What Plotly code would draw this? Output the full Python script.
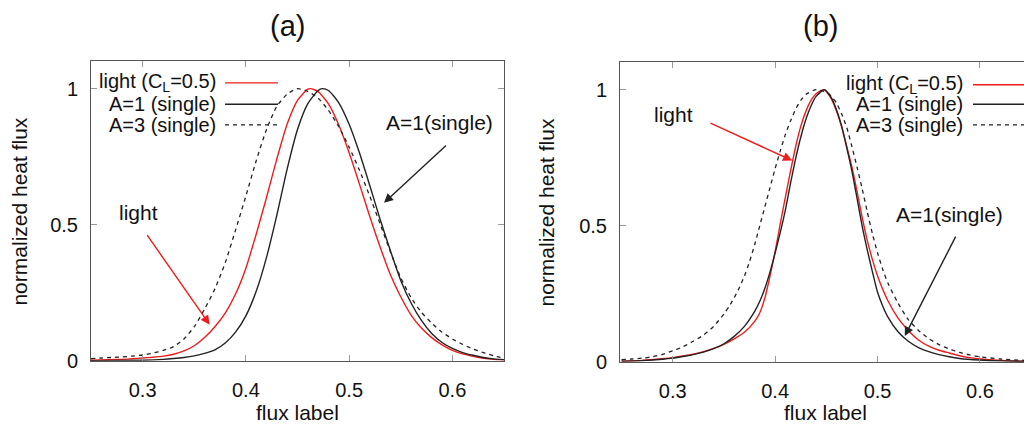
import plotly.graph_objects as go

# ---------------- data ----------------
# panel (a)
red_a_x = [0.25, 0.26, 0.27, 0.28, 0.29, 0.30, 0.31, 0.32, 0.33, 0.34, 0.35, 0.36, 0.37, 0.38, 0.39, 0.40,
           0.41, 0.42, 0.43, 0.44, 0.45, 0.46, 0.4626, 0.47, 0.48, 0.49, 0.50, 0.51, 0.52, 0.53, 0.54, 0.55,
           0.56, 0.57, 0.58, 0.59, 0.60, 0.61, 0.62, 0.63, 0.64, 0.65]
red_a_y = [0.002, 0.003, 0.004, 0.005, 0.007, 0.010, 0.013, 0.017, 0.024, 0.036, 0.055, 0.085, 0.125, 0.175, 0.245, 0.340,
           0.465, 0.600, 0.742, 0.870, 0.957, 0.998, 1.000, 0.989, 0.944, 0.866, 0.764, 0.649, 0.530, 0.418, 0.316, 0.235,
           0.168, 0.120, 0.085, 0.058, 0.038, 0.025, 0.016, 0.009, 0.005, 0.003]

black_a_x = [0.25, 0.30, 0.32, 0.33, 0.34, 0.35, 0.36, 0.37, 0.38, 0.39, 0.40, 0.41, 0.42, 0.43, 0.44, 0.45,
             0.46, 0.47, 0.474, 0.48, 0.49, 0.50, 0.51, 0.52, 0.53, 0.54, 0.55, 0.56, 0.57, 0.58, 0.59, 0.60,
             0.61, 0.62, 0.63, 0.64, 0.65]
black_a_y = [0.000, 0.002, 0.005, 0.008, 0.012, 0.018, 0.027, 0.040, 0.065, 0.105, 0.165, 0.255, 0.380, 0.535, 0.705, 0.850,
             0.945, 0.993, 1.000, 0.993, 0.948, 0.869, 0.764, 0.644, 0.520, 0.404, 0.295, 0.212, 0.148, 0.100, 0.067, 0.045,
             0.030, 0.020, 0.012, 0.007, 0.004]

dash_a_x = [0.25, 0.26, 0.27, 0.28, 0.29, 0.30, 0.31, 0.32, 0.33, 0.34, 0.35, 0.36, 0.37, 0.38, 0.39, 0.40,
            0.41, 0.42, 0.43, 0.44, 0.45, 0.46, 0.47, 0.48, 0.49, 0.50, 0.51, 0.52, 0.53, 0.54, 0.55, 0.56,
            0.57, 0.58, 0.59, 0.60, 0.61, 0.62, 0.63, 0.64, 0.65]
dash_a_y = [0.008, 0.010, 0.012, 0.014, 0.017, 0.021, 0.028, 0.038, 0.052, 0.080, 0.125, 0.190, 0.264, 0.360, 0.480, 0.605,
            0.735, 0.850, 0.935, 0.980, 1.000, 0.990, 0.965, 0.920, 0.860, 0.785, 0.700, 0.605, 0.503, 0.400, 0.305, 0.232,
            0.178, 0.138, 0.105, 0.080, 0.060, 0.043, 0.030, 0.018, 0.010]

# panel (b)
red_b_x = [0.25, 0.27, 0.29, 0.30, 0.31, 0.32, 0.33, 0.34, 0.35, 0.36, 0.37, 0.38, 0.385, 0.39, 0.395, 0.40,
           0.405, 0.41, 0.415, 0.42, 0.425, 0.43, 0.435, 0.44, 0.4475, 0.455, 0.46, 0.465, 0.47, 0.475, 0.48, 0.485,
           0.49, 0.495, 0.50, 0.51, 0.52, 0.53, 0.54, 0.55, 0.56, 0.57, 0.58, 0.59, 0.60, 0.62, 0.643]
red_b_y = [0.002, 0.005, 0.011, 0.015, 0.021, 0.028, 0.037, 0.049, 0.064, 0.084, 0.108, 0.148, 0.180, 0.235, 0.315, 0.405,
           0.507, 0.605, 0.700, 0.790, 0.865, 0.920, 0.960, 0.985, 1.000, 0.965, 0.920, 0.862, 0.790, 0.715, 0.625, 0.530,
           0.445, 0.375, 0.315, 0.225, 0.160, 0.115, 0.080, 0.057, 0.042, 0.032, 0.022, 0.015, 0.010, 0.005, 0.002]

black_b_x = [0.25, 0.27, 0.29, 0.30, 0.31, 0.32, 0.33, 0.34, 0.35, 0.36, 0.37, 0.38, 0.385, 0.39, 0.395, 0.40,
             0.405, 0.41, 0.415, 0.42, 0.425, 0.43, 0.435, 0.44, 0.448, 0.455, 0.46, 0.465, 0.47, 0.475, 0.48, 0.485,
             0.49, 0.495, 0.50, 0.505, 0.51, 0.52, 0.53, 0.54, 0.55, 0.56, 0.57, 0.58, 0.60, 0.62, 0.643]
black_b_y = [0.002, 0.004, 0.009, 0.013, 0.019, 0.026, 0.035, 0.048, 0.066, 0.093, 0.130, 0.185, 0.222, 0.270, 0.330, 0.400,
             0.475, 0.558, 0.655, 0.746, 0.825, 0.890, 0.940, 0.975, 1.000, 0.970, 0.925, 0.865, 0.785, 0.700, 0.600, 0.497,
             0.410, 0.330, 0.255, 0.205, 0.165, 0.110, 0.075, 0.052, 0.037, 0.026, 0.018, 0.012, 0.006, 0.003, 0.001]

dash_b_x = [0.25, 0.26, 0.27, 0.28, 0.29, 0.30, 0.31, 0.32, 0.33, 0.34, 0.35, 0.355, 0.36, 0.365, 0.37, 0.375,
            0.38, 0.385, 0.39, 0.395, 0.40, 0.405, 0.41, 0.415, 0.42, 0.425, 0.43, 0.44, 0.45, 0.455, 0.46, 0.465,
            0.47, 0.475, 0.48, 0.485, 0.49, 0.495, 0.50, 0.505, 0.51, 0.52, 0.53, 0.54, 0.55, 0.56, 0.57, 0.58,
            0.59, 0.60, 0.62, 0.643]
dash_b_y = [0.008, 0.010, 0.013, 0.018, 0.027, 0.040, 0.055, 0.075, 0.098, 0.130, 0.175, 0.203, 0.235, 0.272, 0.315, 0.368,
            0.430, 0.500, 0.570, 0.640, 0.710, 0.775, 0.835, 0.885, 0.928, 0.960, 0.982, 1.000, 0.990, 0.975, 0.950, 0.910,
            0.860, 0.790, 0.715, 0.635, 0.550, 0.470, 0.400, 0.340, 0.290, 0.215, 0.155, 0.115, 0.085, 0.063, 0.047, 0.034,
            0.025, 0.018, 0.010, 0.005]

series_names = ["light (C<sub>L</sub>=0.5)", "A=1 (single)", "A=3 (single)"]
x_ticks = [0.3, 0.4, 0.5, 0.6]
y_ticks = [0, 0.5, 1]
y_tick_labels = ["0", "0.5", "1"]

# ---------------- style ----------------
FONT = "Liberation Sans, Arial, Helvetica, sans-serif"
RED = "#ee1c1c"
BLK = "#222222"
styles = [dict(color=RED, width=1.4), dict(color=BLK, width=1.4), dict(color=BLK, width=1.3, dash="4px,4px")]

fig = go.Figure()
panels = [
    ("x", "y", [(red_a_x, red_a_y), (black_a_x, black_a_y), (dash_a_x, dash_a_y)]),
    ("x2", "y2", [(red_b_x, red_b_y), (black_b_x, black_b_y), (dash_b_x, dash_b_y)]),
]
for xa, ya, data in panels:
    for (xs, ys), st, nm in zip(data, styles, series_names):
        fig.add_trace(go.Scatter(x=xs, y=ys, mode="lines", line=dict(shape="spline", smoothing=0.6, **st),
                                 name=nm, xaxis=xa, yaxis=ya, showlegend=False))

axis_common = dict(showline=True, linecolor="#555555", linewidth=1, ticks="inside", ticklen=6,
                   tickcolor="#999999", tickwidth=1, showgrid=False, zeroline=False,
                   tickfont=dict(family=FONT, size=20, color="#111111"))

fig.update_layout(
    width=1024, height=439, margin=dict(l=0, r=0, t=0, b=0),
    paper_bgcolor="white", plot_bgcolor="white", showlegend=False,
    xaxis=dict(domain=[91/1024, 504/1024], range=[0.25, 0.65], tickvals=x_ticks, mirror="ticks", anchor="y",
               ticklabelstandoff=11, **axis_common),
    yaxis=dict(domain=[1-370/439, 1-63/439], range=[0, 1.1], tickvals=y_ticks, ticktext=y_tick_labels, mirror="ticks",
               anchor="x", ticklabelstandoff=8, **axis_common),
    xaxis2=dict(domain=[620/1024, 1.0], range=[0.2485, 0.643], tickvals=x_ticks, mirror="ticks", anchor="y2",
                ticklabelstandoff=11, **axis_common),
    yaxis2=dict(domain=[1-371/439, 1-64/439], range=[0, 1.1], tickvals=y_ticks, ticktext=y_tick_labels, mirror=False,
                anchor="x2", ticklabelstandoff=8, **axis_common),
)

def ptext(text, px, py, size, xanchor="center", angle=0):
    return dict(text=text, x=px/1024, y=1-py/439, xref="paper", yref="paper", xanchor=xanchor, yanchor="middle",
                showarrow=False, textangle=angle, font=dict(family=FONT, size=size, color="#111"))

ann = []
# panel titles
ann.append(ptext("(a)", 287, 27, 29))
ann.append(ptext("(b)", 820, 27, 29))
# axis titles
for xc, yc in [(297.5, 423), (825, 423)]:
    ann.append(ptext("flux label", xc, yc, 21))
for xc, yc in [(20, 217), (547, 218)]:
    ann.append(ptext("normalized heat flux", xc, yc, 21, angle=-90))

# legends (text right aligned, sample line on the right)
shapes = []
leg = [(218, 225, 278, [85, 107, 128]), (965, 973, 1024, [87, 107, 128])]
for xr, l0, l1, rows in leg:
    for nm, st, yr in zip(series_names, styles, rows):
        ann.append(ptext(nm, xr, yr, 20, xanchor="right"))
        shapes.append(dict(type="line", xref="paper", yref="paper", x0=l0/1024, x1=l1/1024,
                           y0=1-yr/439, y1=1-yr/439,
                           line=dict(color=st["color"], width=st["width"], dash=st.get("dash", "solid"))))

# callouts
def label(xr, yr, text, pos):
    return dict(text=text, x=pos[0], y=pos[1], xref=xr, yref=yr, xanchor="center", yanchor="middle",
                showarrow=False, font=dict(family=FONT, size=21, color="#111"))

def arrow(xr, yr, tip, tail, color):
    return dict(x=tip[0], y=tip[1], ax=tail[0], ay=tail[1], xref=xr, yref=yr, axref=xr, ayref=yr, text="",
                showarrow=True, arrowhead=2, arrowsize=1.3, arrowwidth=1.4, arrowcolor=color)

ann.append(label("x", "y", "light", (0.2956, 0.545)))
ann.append(arrow("x", "y", (0.3649, 0.1326), (0.3034, 0.467), RED))
ann.append(label("x", "y", "A=1(single)", (0.5879, 0.876)))
ann.append(arrow("x", "y", (0.5338, 0.5806), (0.5953, 0.7957), BLK))

ann.append(label("x2", "y2", "light", (0.3012, 0.910)))
ann.append(arrow("x2", "y2", (0.4166, 0.7395), (0.3354, 0.879), RED))
ann.append(label("x2", "y2", "A=1(single)", (0.5705, 0.542)))
ann.append(arrow("x2", "y2", (0.5266, 0.0943), (0.577, 0.465), BLK))

fig.update_layout(annotations=ann, shapes=shapes)
fig.write_html("out.html")
